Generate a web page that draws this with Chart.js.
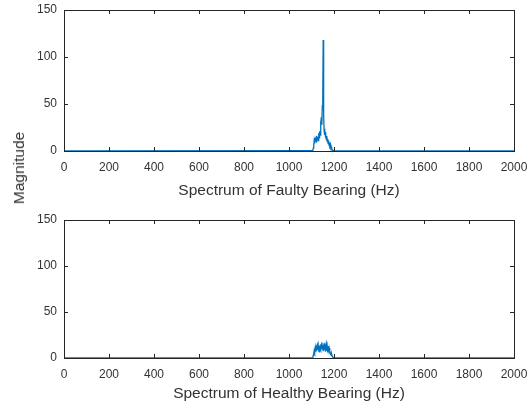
<!DOCTYPE html>
<html>
<head>
<meta charset="utf-8">
<script src="https://cdn.jsdelivr.net/npm/chart.js@4"></script>
<style>
  html, body { margin: 0; padding: 0; background: #fff; }
  #wrap { position: relative; width: 531px; height: 406px; }
  .box { position: absolute; left: 0; width: 531px; height: 203px; }
  #ylabel {
    position: absolute; left: 19px; top: 168px;
    transform: translate(-50%, -50%) rotate(-90deg);
    font: 15.5px "Liberation Sans", Arial, sans-serif; color: #333;
    white-space: nowrap;
  }
</style>
</head>
<body>
<div id="wrap">
  <div class="box" style="top:0"><canvas id="faulty"></canvas></div>
  <div class="box" style="top:203px"><canvas id="healthy"></canvas></div>
  <div id="ylabel">Magnitude</div>
</div>
<script>
// frequency bins (Hz) around the bearing resonance, plus the two ends of the span
const freq = [0, 1100, 1102, 1104, 1106, 1108, 1110, 1112, 1114, 1116, 1118, 1120, 1122, 1124, 1126, 1128, 1130,
  1132, 1134, 1136, 1138, 1140, 1142, 1144, 1146, 1148, 1150, 1152, 1154, 1156, 1158, 1160, 1162, 1164, 1166,
  1168, 1170, 1172, 1174, 1176, 1178, 1180, 1182, 1184, 1186, 1188, 1190, 1192, 1194, 1196, 1198, 1200, 2000];

const faultyMag = [0.2, 0.3, 0.4, 0.6, 1, 3, 6, 11, 8, 14, 10, 13, 9, 16, 12, 15, 11,
  19, 14, 21, 17, 24, 30, 36, 28, 48, 55, 118, 38, 22, 17, 20, 14, 18, 12,
  16, 10, 13, 8, 11, 6, 9, 5, 7, 3, 4, 2, 1.5, 1, 0.6, 0.4, 0.3, 0.2];

const healthyMag = [0.2, 0.2, 0.3, 0.5, 1, 3, 5, 8, 6, 10, 7, 12, 8, 11, 14, 9, 13,
  7, 10, 6, 11, 15, 9, 13, 17, 10, 14, 8, 12, 16, 9, 13, 7, 11, 15,
  8, 12, 6, 13, 9, 11, 5, 8, 4, 6, 3, 4, 2, 1, 0.5, 0.3, 0.2, 0.2];

const xTicks = [0, 200, 400, 600, 800, 1000, 1200, 1400, 1600, 1800, 2000];
const yTicks = [0, 50, 100, 150];

const font = "'Liberation Sans', Arial, sans-serif";
const textColor = "#333";
const axisColor = "#262626";

// MATLAB style: box around the axes and ticks pointing inwards
const boxPlugin = {
  id: "boxPlugin",
  afterDraw(chart) {
    const ctx = chart.ctx;
    const a = chart.chartArea;
    const x = chart.scales.x;
    const y = chart.scales.y;
    ctx.save();
    ctx.strokeStyle = axisColor;
    ctx.lineWidth = 1;
    ctx.strokeRect(Math.round(a.left) + 0.5, Math.round(a.top) + 0.5,
      Math.round(a.right - a.left), Math.round(a.bottom - a.top));
    ctx.beginPath();
    const len = 4;
    xTicks.forEach(v => {
      const px = Math.round(x.getPixelForValue(v)) + 0.5;
      ctx.moveTo(px, a.bottom); ctx.lineTo(px, a.bottom - len);
      ctx.moveTo(px, a.top); ctx.lineTo(px, a.top + len);
    });
    yTicks.forEach(v => {
      const py = Math.round(y.getPixelForValue(v)) + 0.5;
      ctx.moveTo(a.left, py); ctx.lineTo(a.left + len, py);
      ctx.moveTo(a.right, py); ctx.lineTo(a.right - len, py);
    });
    ctx.stroke();
    ctx.restore();
  }
};

function makeChart(id, values, title, top, xHeight) {
  const ctx = document.getElementById(id).getContext("2d");
  return new Chart(ctx, {
    type: "line",
    data: {
      datasets: [{
        data: freq.map((f, i) => ({ x: f, y: values[i] })),
        borderColor: "#0072BD",
        borderWidth: 1.3,
        pointRadius: 0,
        tension: 0,
        fill: false
      }]
    },
    options: {
      responsive: true,
      maintainAspectRatio: false,
      animation: false,
      layout: { padding: { left: 0, right: 17, top: top, bottom: 0 } },
      plugins: { legend: { display: false }, tooltip: { enabled: false } },
      scales: {
        x: {
          type: "linear",
          min: 0,
          max: 2000,
          afterBuildTicks: s => { s.ticks = xTicks.map(v => ({ value: v })); },
          afterFit: s => { s.height = xHeight; s.paddingLeft = 0; s.paddingRight = 0; },
          grid: { display: false, drawTicks: false },
          border: { display: false },
          ticks: {
            padding: 9, color: textColor, font: { family: font, size: 12 }, maxRotation: 0,
            callback: v => String(v)
          },
          title: {
            display: true,
            text: title,
            color: textColor,
            font: { family: font, size: 15.5 },
            padding: { top: 0, bottom: 3 }
          }
        },
        y: {
          min: 0,
          max: 150,
          afterBuildTicks: s => { s.ticks = yTicks.map(v => ({ value: v })); },
          afterFit: s => { s.width = 64; s.paddingTop = 0; s.paddingBottom = 0; },
          grid: { display: false, drawTicks: false },
          border: { display: false },
          ticks: { padding: 7, color: textColor, font: { family: font, size: 12 }, callback: v => String(v) }
        }
      }
    },
    plugins: [boxPlugin]
  });
}

makeChart("faulty", faultyMag, "Spectrum of Faulty Bearing (Hz)", 10, 52);
makeChart("healthy", healthyMag, "Spectrum of Healthy Bearing (Hz)", 17, 48);
</script>
</body>
</html>
